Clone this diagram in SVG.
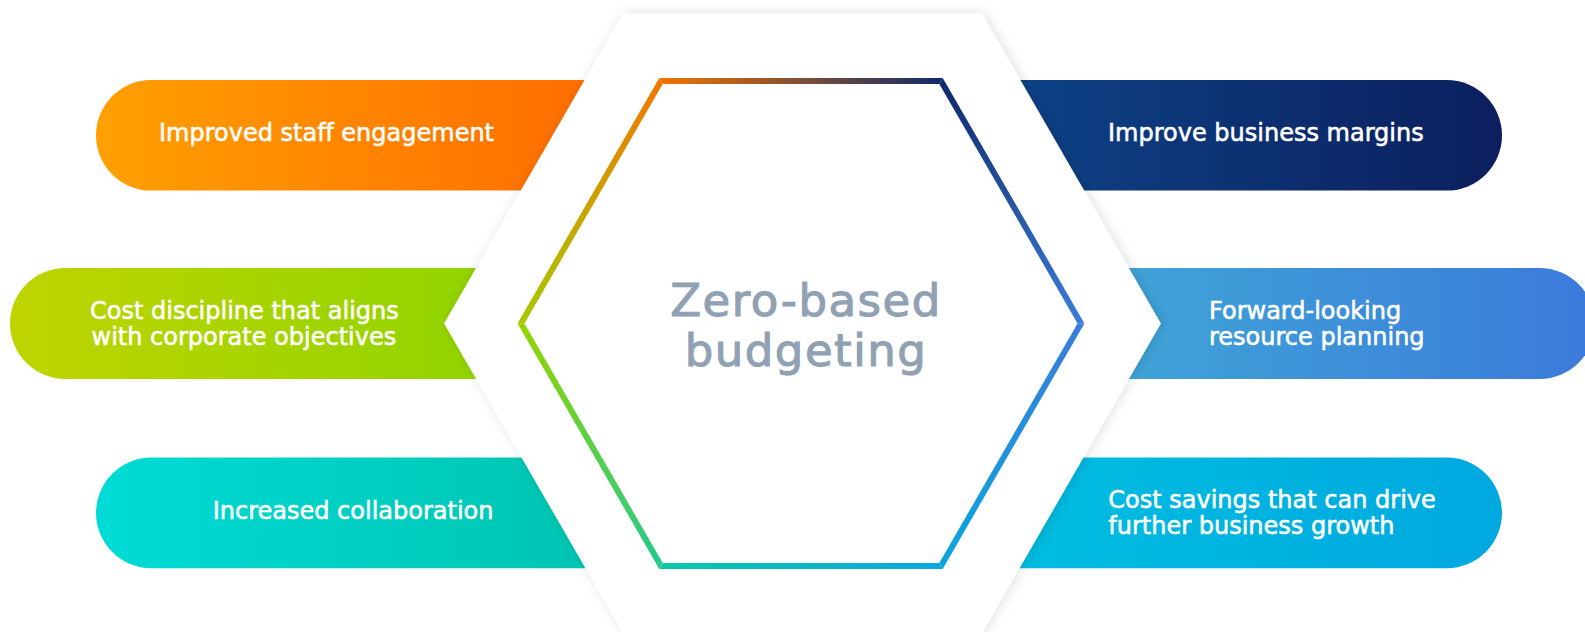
<svg xmlns="http://www.w3.org/2000/svg" width="1585" height="632" viewBox="0 0 1585 632">
<style>
.lbl{font-family:"DejaVu Sans","Liberation Sans",sans-serif;font-size:24px;fill:#ffffff;stroke:#ffffff;stroke-width:0.55px;}
.title{font-family:"DejaVu Sans","Liberation Sans",sans-serif;font-size:45px;fill:#8fa1b2;stroke:#8fa1b2;stroke-width:1.1px;letter-spacing:1.5px;text-anchor:middle;}
</style>
<defs>
<filter id="sh" x="-10%" y="-10%" width="120%" height="120%">
<feDropShadow dx="2" dy="0" stdDeviation="6" flood-color="#000" flood-opacity="0.13"/>
</filter>
<linearGradient id="gOrange" gradientUnits="userSpaceOnUse" x1="96" y1="0" x2="585" y2="0"><stop offset="0" stop-color="#ffa000"/><stop offset="1" stop-color="#ff6d00"/></linearGradient>
<linearGradient id="gGreen" gradientUnits="userSpaceOnUse" x1="10" y1="0" x2="475" y2="0"><stop offset="0" stop-color="#bfd400"/><stop offset="1" stop-color="#92d400"/></linearGradient>
<linearGradient id="gTeal" gradientUnits="userSpaceOnUse" x1="96" y1="0" x2="580" y2="0"><stop offset="0" stop-color="#00dbd6"/><stop offset="1" stop-color="#00c5b2"/></linearGradient>
<linearGradient id="gNavy" gradientUnits="userSpaceOnUse" x1="1020" y1="0" x2="1502" y2="0"><stop offset="0" stop-color="#0d4286"/><stop offset="1" stop-color="#0c1e5d"/></linearGradient>
<linearGradient id="gBlue" gradientUnits="userSpaceOnUse" x1="1115" y1="0" x2="1595" y2="0"><stop offset="0" stop-color="#3fa4d6"/><stop offset="1" stop-color="#3b7adb"/></linearGradient>
<linearGradient id="gCyan" gradientUnits="userSpaceOnUse" x1="1010" y1="0" x2="1502" y2="0"><stop offset="0" stop-color="#00bde0"/><stop offset="1" stop-color="#00a8e0"/></linearGradient>
<linearGradient id="eTop" gradientUnits="userSpaceOnUse" x1="660" y1="81" x2="942" y2="81"><stop offset="0" stop-color="#f27400"/><stop offset="1" stop-color="#0e2a6c"/></linearGradient>
<linearGradient id="eTR" gradientUnits="userSpaceOnUse" x1="941" y1="81" x2="1081" y2="323"><stop offset="0" stop-color="#0e2a6c"/><stop offset="1" stop-color="#3b7dd8"/></linearGradient>
<linearGradient id="eBR" gradientUnits="userSpaceOnUse" x1="1081" y1="323" x2="941" y2="566"><stop offset="0" stop-color="#3b7dd8"/><stop offset="1" stop-color="#0aa6e0"/></linearGradient>
<linearGradient id="eBot" gradientUnits="userSpaceOnUse" x1="941" y1="566" x2="661" y2="566"><stop offset="0" stop-color="#0aa6e0"/><stop offset="1" stop-color="#0cc8a8"/></linearGradient>
<linearGradient id="eBL" gradientUnits="userSpaceOnUse" x1="661" y1="566" x2="521" y2="323"><stop offset="0" stop-color="#22ca8c"/><stop offset="1" stop-color="#96d400"/></linearGradient>
<linearGradient id="eTL" gradientUnits="userSpaceOnUse" x1="521" y1="323" x2="661" y2="81"><stop offset="0" stop-color="#a8c800"/><stop offset="1" stop-color="#f07800"/></linearGradient>
</defs>

<g id="pill-staff-engagement">
<rect x="96" y="80" width="654" height="110.6" rx="55.3" fill="url(#gOrange)"/>
<text class="lbl" x="159" y="141">Improved staff engagement</text>
</g>
<g id="pill-cost-discipline">
<rect x="10" y="268" width="600" height="111" rx="55.5" fill="url(#gGreen)"/>
<text class="lbl" x="90" y="318.5">Cost discipline that aligns</text>
<text class="lbl" x="91.5" y="344.5">with corporate objectives</text>
</g>
<g id="pill-collaboration">
<rect x="96" y="457.5" width="654" height="110.8" rx="55.4" fill="url(#gTeal)"/>
<text class="lbl" x="212.7" y="519">Increased collaboration</text>
</g>
<g id="pill-margins">
<rect x="850" y="80" width="652" height="110.6" rx="55.3" fill="url(#gNavy)"/>
<text class="lbl" x="1108" y="140.7">Improve business margins</text>
</g>
<g id="pill-resource-planning">
<rect x="850" y="268" width="745" height="111" rx="55.5" fill="url(#gBlue)"/>
<text class="lbl" x="1209" y="318.5">Forward-looking</text>
<text class="lbl" x="1209" y="344.5">resource planning</text>
</g>
<g id="pill-cost-savings">
<rect x="850" y="457.5" width="652" height="110.8" rx="55.4" fill="url(#gCyan)"/>
<text class="lbl" x="1108.3" y="508.3">Cost savings that can drive</text>
<text class="lbl" x="1108.3" y="534.3">further business growth</text>
</g>

<g id="center-zero-based-budgeting">
<polygon points="1160.9,323.4 981.7,633.8 623.3,633.8 444.1,323.4 623.3,13 981.7,13" fill="#ffffff" filter="url(#sh)"/>
<polygon points="659.27,77.92 942.73,77.92 939.27,83.92 662.73,83.92" fill="url(#eTop)"/>
<polygon points="942.73,77.92 1084.46,323.4 1077.54,323.4 939.27,83.92" fill="url(#eTR)"/>
<polygon points="1084.46,323.4 942.73,568.88 939.27,562.88 1077.54,323.4" fill="url(#eBR)"/>
<polygon points="942.73,568.88 659.27,568.88 662.73,562.88 939.27,562.88" fill="url(#eBot)"/>
<polygon points="659.27,568.88 517.54,323.4 524.46,323.4 662.73,562.88" fill="url(#eBL)"/>
<polygon points="517.54,323.4 659.27,77.92 662.73,83.92 524.46,323.4" fill="url(#eTL)"/>
<text class="title" x="806" y="315.7">Zero-based</text>
<text class="title" x="806" y="366">budgeting</text>
</g>

<g id="connectors"/>
</svg>
